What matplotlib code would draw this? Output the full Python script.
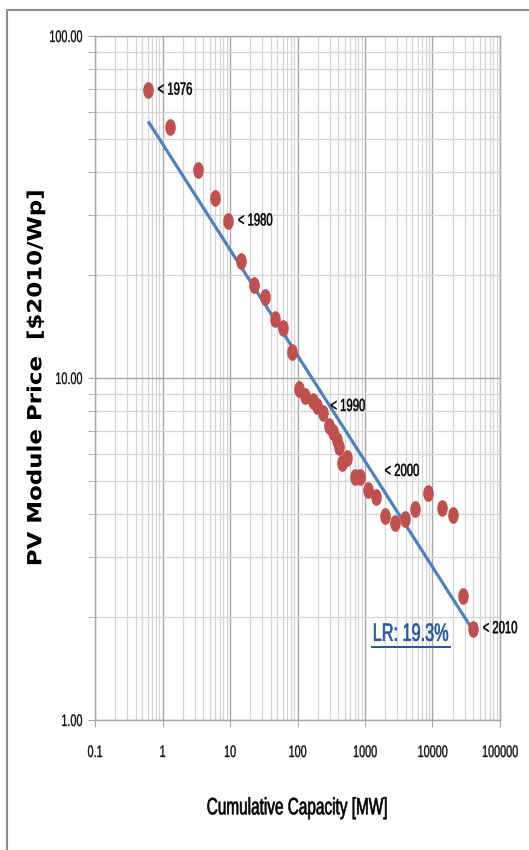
import matplotlib
matplotlib.use("Agg")
import matplotlib.pyplot as plt
import numpy as np
from matplotlib.lines import Line2D
from matplotlib.path import Path
from matplotlib.patheffects import AbstractPathEffect
from matplotlib.transforms import Affine2D, Bbox
from matplotlib.ticker import FixedLocator, LogLocator, NullFormatter, FuncFormatter

# cumulative installed PV capacity [MW], one point per year 1976..2010
capacity = [0.615, 1.31, 3.41, 5.9, 9.5, 14.4, 22.5, 32.7, 46, 60.7,
            82.6, 105, 129, 169, 194, 239, 293, 336, 386, 413,
            458, 544, 714, 849, 1117, 1469, 2000, 2814, 3963, 5585,
            8716, 13600, 19860, 27900, 39300]
# module price [$2010/Wp]
price = [69.5, 54.2, 40.6, 33.6, 28.8, 22.0, 18.7, 17.2, 14.9, 14.0,
         11.9, 9.31, 8.83, 8.54, 8.26, 7.88, 7.26, 6.93, 6.57, 6.27,
         5.66, 5.82, 5.12, 5.12, 4.70, 4.48, 3.94, 3.76, 3.86, 4.13,
         4.60, 4.16, 3.97, 2.30, 1.85]
years = list(range(1976, 2011))
labelled_years = [1976, 1980, 1990, 2000, 2010]
# label offsets in points from the data point, and which side they hang from
label_offsets = {1976: (6.5, 0), 1980: (6.5, 0), 1990: (9.5, 0),
                 2000: (11.5, 13.5), 2010: (32.5, 0)}
label_align = {1976: "left", 1980: "left", 1990: "left", 2000: "left", 2010: "right"}

# power-law experience curve, LR = 1 - 2^-b
learning_rate = 0.193
trend_a = 48.4

x_ticks = [0.1, 1, 10, 100, 1000, 10000, 100000]
x_tick_labels = ["0.1", "1", "10", "100", "1000", "10000", "100000"]
y_ticks = [1, 10, 100]

SANS = ["Liberation Sans", "DejaVu Sans"]
RED = "#C0504D"
BLUE = "#4F81BD"
SQ = 0.65   # the reference image is squashed horizontally


class Squeeze(AbstractPathEffect):
    """Scale a text's glyphs in its own frame around an anchor of the ink,
    optionally thickening them with a thin outline of the same colour."""

    def __init__(self, sx=1.0, sy=1.0, anchor="center", stroke=0.0):
        super().__init__()
        self.sx, self.sy, self.anchor, self.stroke = sx, sy, anchor, stroke

    def draw_path(self, renderer, gc, tpath, affine, rgbFace=None):
        ext = tpath.get_extents()
        cx = {"left": ext.x0, "right": ext.x1,
              "center": 0.5 * (ext.x0 + ext.x1)}[self.anchor]
        cy = 0.5 * (ext.y0 + ext.y1)
        t = Affine2D().translate(-cx, -cy).scale(self.sx, self.sy).translate(cx, cy) + affine
        gc0 = renderer.new_gc()
        gc0.copy_properties(gc)
        if self.stroke > 0 and rgbFace is not None:
            gc0.set_foreground(rgbFace)
            gc0.set_linewidth(self.stroke)
        renderer.draw_path(gc0, tpath, t, rgbFace)
        gc0.restore()


def squeeze(text, sx=1.0, sy=1.0, anchor="center", stroke=0.0, vertical=False):
    """Apply the Squeeze effect and report the squeezed extent for layout."""
    text.set_path_effects([Squeeze(sx, sy, anchor, stroke)])
    orig = text.get_window_extent

    def extent(renderer=None, dpi=None):
        bb = orig(renderer, dpi)
        f = sy if vertical else sx
        w = bb.width * f
        if anchor == "left" and not vertical:
            x0 = bb.x0
        elif anchor == "right" and not vertical:
            x0 = bb.x1 - w
        else:
            x0 = 0.5 * (bb.x0 + bb.x1) - w / 2
        return Bbox([[x0, bb.y0], [x0 + w, bb.y1]])

    text.get_window_extent = extent
    return text


fig = plt.figure(figsize=(5.29, 8.5), dpi=100)
ax = fig.add_axes([95 / 529, 1 - 720 / 850, 405 / 529, 684 / 850])

ax.set_xscale("log")
ax.set_yscale("log")
ax.set_xlim(0.1, 100000)
ax.set_ylim(1, 100)

# grid
ax.xaxis.set_minor_locator(LogLocator(base=10, subs=np.arange(2, 10)))
ax.yaxis.set_minor_locator(LogLocator(base=10, subs=np.arange(2, 10)))
ax.grid(True, which="major", color="#a6a6a6", lw=1.0)
ax.grid(True, which="minor", color="#d4d4d4", lw=0.9)
ax.set_axisbelow(True)
for s in ax.spines.values():
    s.set_color("#a6a6a6")
    s.set_linewidth(1.0)

ax.xaxis.set_major_locator(FixedLocator(x_ticks))
ax.set_xticklabels(x_tick_labels)
ax.xaxis.set_minor_formatter(NullFormatter())
ax.yaxis.set_major_locator(FixedLocator(y_ticks))
ax.yaxis.set_major_formatter(FuncFormatter(lambda v, p: f"{v:.2f}"))
ax.yaxis.set_minor_formatter(NullFormatter())
ax.tick_params(axis="x", which="major", length=5, color="#a6a6a6", pad=13)
ax.tick_params(axis="x", which="minor", length=0)
ax.tick_params(axis="y", which="both", length=5, color="#a6a6a6", pad=4)
ax.tick_params(labelsize=12, labelcolor="#111111")

# trend line
b = -np.log2(1 - learning_rate)
xt = np.array([capacity[0], capacity[-1]])
ax.plot(xt, trend_a * xt ** (-b), color=BLUE, lw=2.3, zorder=3, solid_capstyle="butt")

# data points (tall ellipse like the stretched Excel marker)
ell = Path.unit_circle().transformed(Affine2D().scale(0.6, 1.0))
ax.plot(capacity, price, ls="none", marker=ell, ms=11, color=RED,
        markeredgecolor=RED, zorder=4)

for yr in labelled_years:
    i = years.index(yr)
    side = label_align[yr]
    t = ax.annotate(f"< {yr}", (capacity[i], price[i]), xytext=label_offsets[yr],
                    textcoords="offset points", ha=side, va="center",
                    fontsize=12.5, family=SANS, color="black", zorder=5)
    squeeze(t, SQ, 1.0, side, stroke=0.35)

lr = ax.text(0.684, 0.126, f"LR: {learning_rate * 100:.1f}%", transform=ax.transAxes,
             ha="left", va="center", fontsize=18, family=SANS, color="#24579A")
squeeze(lr, SQ, 1.0, "left", stroke=0.45)

ax.set_xlabel("Cumulative Capacity [MW]", family=SANS, fontsize=17, color="black")
squeeze(ax.xaxis.label, SQ, 1.0, "center", stroke=0.45)
ax.xaxis.set_label_coords(0.5, -0.113)
ax.set_ylabel("PV Module Price  [$2010/Wp]", fontsize=16.5, fontweight="bold")
squeeze(ax.yaxis.label, 1.0, 0.85, "center", vertical=True)
ax.yaxis.set_label_coords(-0.118, 0.5)

# chart frame lines (top and left edges of the Excel chart area)
fig.add_artist(Line2D([7 / 529, 1], [1 - 10 / 850, 1 - 10 / 850],
                      transform=fig.transFigure, color="#8c8c8c", lw=1.5))
fig.add_artist(Line2D([7 / 529, 7 / 529], [0, 1 - 10 / 850],
                      transform=fig.transFigure, color="#8c8c8c", lw=1.5))

fig.canvas.draw()
for t in ax.xaxis.get_major_ticks():
    t.label1.set_family(SANS)
    squeeze(t.label1, SQ, 1.0, "center", stroke=0.25)
for t in ax.yaxis.get_major_ticks():
    t.label1.set_family(SANS)
    squeeze(t.label1, SQ, 1.0, "right", stroke=0.25)

# underline the LR label
bb = lr.get_window_extent(fig.canvas.get_renderer())
inv = fig.transFigure.inverted()
(ux0, uy), (ux1, _) = inv.transform([[bb.x0, bb.y0 - 1], [bb.x1 + 2, bb.y0 - 1]])
fig.add_artist(Line2D([ux0, ux1], [uy, uy], transform=fig.transFigure,
                      color="#24579A", lw=1.4))

fig.savefig("out.png", dpi=100)
